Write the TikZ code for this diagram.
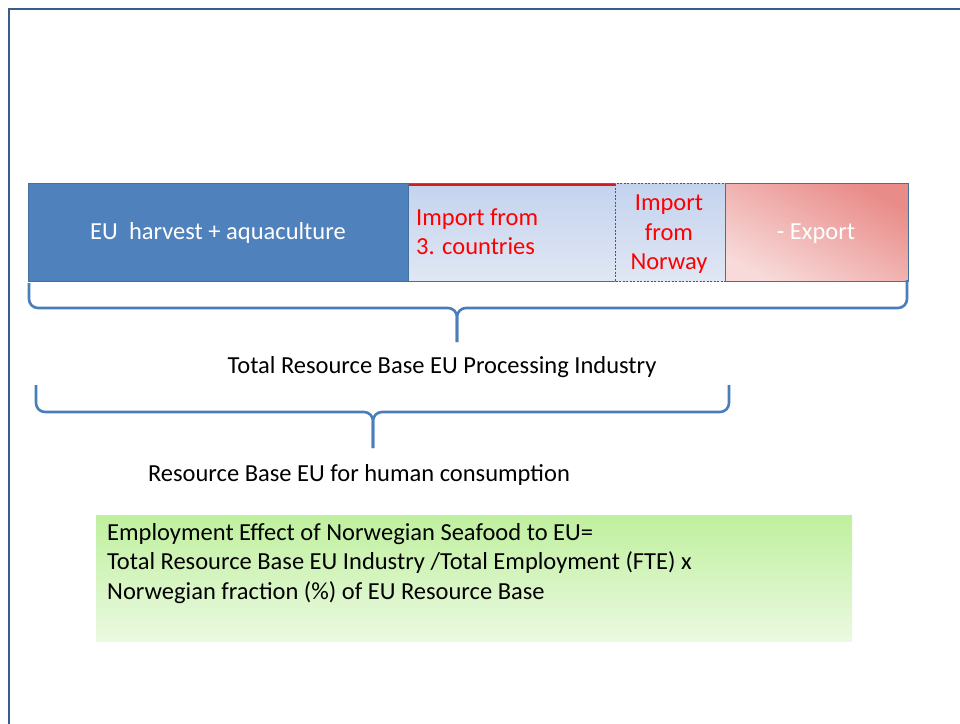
\documentclass[tikz,border=0pt]{standalone}
\usepackage{fontspec}
\setmainfont{Carlito}
\begin{document}
\begin{tikzpicture}[x=1pt,y=-1pt,
  txt/.style={font=\fontsize{24.5}{29.5}\selectfont, inner sep=0pt},
  blk/.style={anchor=north west, minimum height=98pt, inner sep=0pt, draw=barline, line width=1.2pt},
  brace/.style={draw=braceblue, line width=2.6pt, rounded corners=9pt}
]
\definecolor{frame}{HTML}{385D8A}
\definecolor{barline}{HTML}{41719C}
\definecolor{eublue}{HTML}{4F81BD}
\definecolor{ltblueA}{HTML}{C4D3EE}
\definecolor{ltblueB}{HTML}{E0E7F4}
\definecolor{expA}{HTML}{E98B88}
\definecolor{expB}{HTML}{F7DAD9}
\definecolor{braceblue}{HTML}{4A7EBB}
\definecolor{imred}{HTML}{FF0000}
\definecolor{greenA}{HTML}{BFF09E}
\definecolor{greenB}{HTML}{EBF9E1}
\useasboundingbox (0,0) rectangle (960,723);
\fill[white] (0,0) rectangle (960,723);
% frame
\draw[frame, line width=1.6pt] (9,740) -- (9,9) -- (975,9);
% bar blocks
\node[blk, fill=eublue, minimum width=380pt] (eu) at (28,183) {};
\node[blk, top color=ltblueA, bottom color=ltblueB, minimum width=207pt] (imp3) at (408,183) {};
\node[blk, top color=ltblueA, bottom color=ltblueB, minimum width=110pt, draw=frame, dashed, dash pattern=on 2pt off 1.5pt, line width=1pt] (impn) at (615,183) {};
\node[blk, bottom color=expB, top color=expA, shading angle=-28, minimum width=183pt] (exp) at (725,183) {};
\draw[imred!80!barline, line width=2.2pt] ([xshift=1pt,yshift=-1.8pt]imp3.north west) -- ([xshift=-1pt,yshift=-1.8pt]imp3.north east);
% texts in bar
\node[txt, text=white] (euT) at (218,233) {EU\ \ harvest + aquaculture};
\node[txt, text=imred, align=left, anchor=west] (imp3T) at (416,231.5) {Import from\\3. countries};
\node[txt, text=imred, align=center] (impnT) at (669,234.5) {Import\\from\\Norway};
\node[txt, text=white] (expT) at (816,233.5) {- Export};
% braces
\coordinate (b1l) at (29,283);
\coordinate (b1r) at (907,280);
\coordinate (b1tip) at (457,342);
\draw[brace] (b1l) -- (29,308) -- (457,308) -- (b1tip);
\draw[brace] (b1r) -- (907,308) -- (457,308) -- (b1tip);
\node[txt] (tot) at (442,367) {Total Resource Base EU Processing Industry};
\coordinate (b2l) at (36,385);
\coordinate (b2r) at (729,385);
\coordinate (b2tip) at (373,448);
\draw[brace] (b2l) -- (36,412) -- (373,412) -- (b2tip);
\draw[brace] (b2r) -- (729,412) -- (373,412) -- (b2tip);
\node[txt] (hum) at (359,475) {Resource Base EU for human consumption};
% green box
\node[anchor=north west, minimum width=756pt, minimum height=126pt, top color=greenA, bottom color=greenB, inner sep=0pt] (gbox) at (96,515) {};
\node[txt, align=left, anchor=north west] (gT) at (107,523) {Employment Effect of Norwegian Seafood to EU=\\Total Resource Base EU Industry /Total Employment (FTE) x\\Norwegian fraction (\%) of EU Resource Base};
\end{tikzpicture}
\end{document}
